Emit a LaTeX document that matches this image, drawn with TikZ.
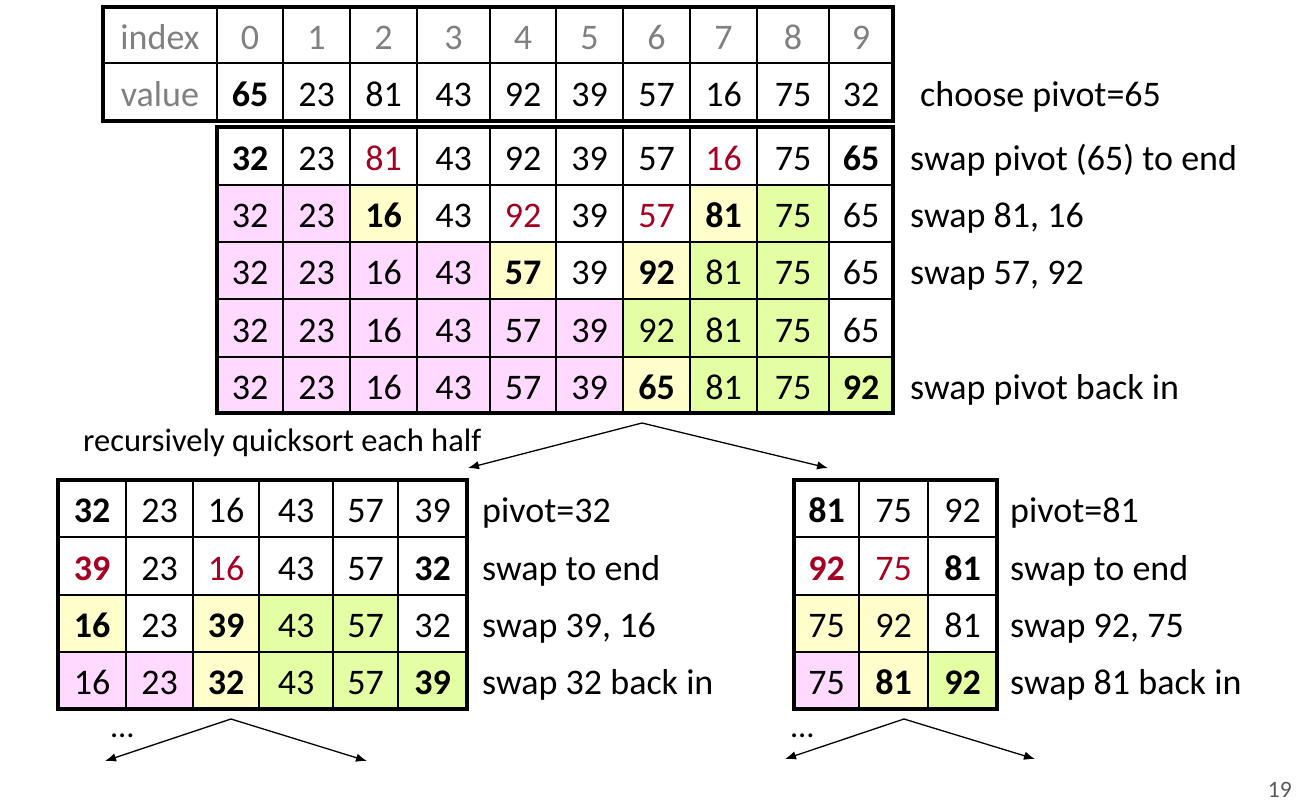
\documentclass[tikz,border=0pt]{standalone}
\usepackage{fontspec}
\setmainfont{Carlito}
\usetikzlibrary{arrows.meta}
\definecolor{pinkc}{HTML}{FFD9FF}
\definecolor{yelc}{HTML}{FFFFCC}
\definecolor{grnc}{HTML}{E4FFA3}
\definecolor{redc}{HTML}{A50021}
\definecolor{grayc}{HTML}{808080}
\definecolor{pagec}{HTML}{595959}
\newcommand\qcellfont{\fontsize{36}{40}\selectfont}
\newcommand\qlabfont{\fontsize{36}{40}\selectfont}
\tikzset{
  cellbox/.style={draw=black, line width=1.3pt, inner sep=0pt, outer sep=0pt,
    text height=28pt, text depth=0pt, font=\qcellfont},
  cw/.style={fill=white}, cp/.style={fill=pinkc}, cy/.style={fill=yelc}, cg/.style={fill=grnc},
  tn/.style={}, tb/.style={font=\qcellfont\bfseries}, tr/.style={text=redc},
  trb/.style={text=redc, font=\qcellfont\bfseries}, tg/.style={text=grayc},
  outer/.style={draw=black, line width=4pt},
  lab/.style={anchor=base west, inner sep=0pt, font=\qlabfont},
  note/.style={anchor=base west, inner sep=0pt, font=\fontsize{32.5}{36}\selectfont},
  arr/.style={line width=1.3pt, -{Latex[length=11pt,width=8.5pt]}}
}
\newcommand\qtable[4]{%
  \foreach [count=\r] \row in {#4} {
    \foreach [count=\c] \fillk/\stylek/\textk in \row {
      \pgfmathsetmacro\xa{{#2}[\c-1]}
      \pgfmathsetmacro\xb{{#2}[\c]}
      \pgfmathsetmacro\ya{{#3}[\r-1]}
      \pgfmathsetmacro\yb{{#3}[\r]}
      \pgfmathsetmacro\cx{(\xa+\xb)/2}
      \pgfmathsetmacro\cy{(\ya+\yb)/2}
      \pgfmathsetmacro\w{\xb-\xa}
      \pgfmathsetmacro\h{\yb-\ya}
      \node[cellbox, \fillk, \stylek, minimum width=\w pt, minimum height=\h pt]
        (#1-\r-\c) at (\cx,\cy) {\textk};
    }
  }
}
\begin{document}
\begin{tikzpicture}[x=1pt, y=-1pt]
\useasboundingbox (0,0) rectangle (1307,806);

% top table
\qtable{top}{103,217,283,350,417,490,556,623,690,757,829,893}{7,63,121}{
  {cw/tg/index, cw/tg/0, cw/tg/1, cw/tg/2, cw/tg/3, cw/tg/4, cw/tg/5, cw/tg/6, cw/tg/7, cw/tg/8, cw/tg/9},
  {cw/tg/value, cw/tb/65, cw/tn/23, cw/tn/81, cw/tn/43, cw/tn/92, cw/tn/39, cw/tn/57, cw/tn/16, cw/tn/75, cw/tn/32}}
\draw[outer] (top-1-1.north west) rectangle (top-2-11.south east);

% main partition table
\qtable{main}{217,283,350,417,490,556,623,690,757,829,893}{127,185,242,299,357,413}{
  {cw/tb/32, cw/tn/23, cw/tr/81, cw/tn/43, cw/tn/92, cw/tn/39, cw/tn/57, cw/tr/16, cw/tn/75, cw/tb/65},
  {cp/tn/32, cp/tn/23, cy/tb/16, cw/tn/43, cw/tr/92, cw/tn/39, cw/tr/57, cy/tb/81, cg/tn/75, cw/tn/65},
  {cp/tn/32, cp/tn/23, cp/tn/16, cp/tn/43, cy/tb/57, cw/tn/39, cy/tb/92, cg/tn/81, cg/tn/75, cw/tn/65},
  {cp/tn/32, cp/tn/23, cp/tn/16, cp/tn/43, cp/tn/57, cp/tn/39, cg/tn/92, cg/tn/81, cg/tn/75, cw/tn/65},
  {cp/tn/32, cp/tn/23, cp/tn/16, cp/tn/43, cp/tn/57, cp/tn/39, cy/tb/65, cg/tn/81, cg/tn/75, cg/tb/92}}
\draw[outer] (main-1-1.north west) rectangle (main-5-10.south east);

% left sub table
\qtable{left}{58,126,193,259,333,398,467}{480,537,595,652,709}{
  {cw/tb/32, cw/tn/23, cw/tn/16, cw/tn/43, cw/tn/57, cw/tn/39},
  {cw/trb/39, cw/tn/23, cw/tr/16, cw/tn/43, cw/tn/57, cw/tb/32},
  {cy/tb/16, cw/tn/23, cy/tb/39, cg/tn/43, cg/tn/57, cw/tn/32},
  {cp/tn/16, cp/tn/23, cy/tb/32, cg/tn/43, cg/tn/57, cg/tb/39}}
\draw[outer] (left-1-1.north west) rectangle (left-4-6.south east);

% right sub table
\qtable{right}{794,859,928,997}{480,537,595,652,709}{
  {cw/tb/81, cw/tn/75, cw/tn/92},
  {cw/trb/92, cw/tr/75, cw/tb/81},
  {cy/tn/75, cy/tn/92, cw/tn/81},
  {cp/tn/75, cy/tb/81, cg/tb/92}}
\draw[outer] (right-1-1.north west) rectangle (right-4-3.south east);

% labels
\node[lab] (l0) at ([xshift=27pt]top-2-11.base east) {choose pivot=65};
\node[lab] (l1) at ([xshift=17pt]main-1-10.base east) {swap pivot (65) to end};
\node[lab] (l2) at ([xshift=17pt]main-2-10.base east) {swap 81, 16};
\node[lab] (l3) at ([xshift=17pt]main-3-10.base east) {swap 57, 92};
\node[lab] (l5) at ([xshift=17pt]main-5-10.base east) {swap pivot back in};

\node[lab] (ll1) at ([xshift=15pt]left-1-6.base east) {pivot=32};
\node[lab] (ll2) at ([xshift=15pt]left-2-6.base east) {swap to end};
\node[lab] (ll3) at ([xshift=15pt]left-3-6.base east) {swap 39, 16};
\node[lab] (ll4) at ([xshift=15pt]left-4-6.base east) {swap 32 back in};

\node[lab] (rl1) at ([xshift=13pt]right-1-3.base east) {pivot=81};
\node[lab] (rl2) at ([xshift=13pt]right-2-3.base east) {swap to end};
\node[lab] (rl3) at ([xshift=13pt]right-3-3.base east) {swap 92, 75};
\node[lab] (rl4) at ([xshift=13pt]right-4-3.base east) {swap 81 back in};

\node[note] (rec) at (83,451) {recursively quicksort each half};
\node[note] (dotsl) at (111,737) {…};
\node[note] (dotsr) at (791,737) {…};
\node[anchor=base east, inner sep=0pt, text=pagec, font=\fontsize{23.5}{26}\selectfont] (pg) at (1292,797) {19};

% arrows
\coordinate (ap1) at (642,423);
\coordinate (a1l) at (468,468);
\coordinate (a1r) at (828,468);
\coordinate (ap2) at (231,719);
\coordinate (a2l) at (105,761);
\coordinate (a2r) at (367,761);
\coordinate (ap3) at (904,719);
\coordinate (a3l) at (785,759);
\coordinate (a3r) at (1035,759);
\draw[arr] (ap1) -- (a1l);
\draw[arr] (ap1) -- (a1r);
\draw[arr] (ap2) -- (a2l);
\draw[arr] (ap2) -- (a2r);
\draw[arr] (ap3) -- (a3l);
\draw[arr] (ap3) -- (a3r);
\end{tikzpicture}
\end{document}
